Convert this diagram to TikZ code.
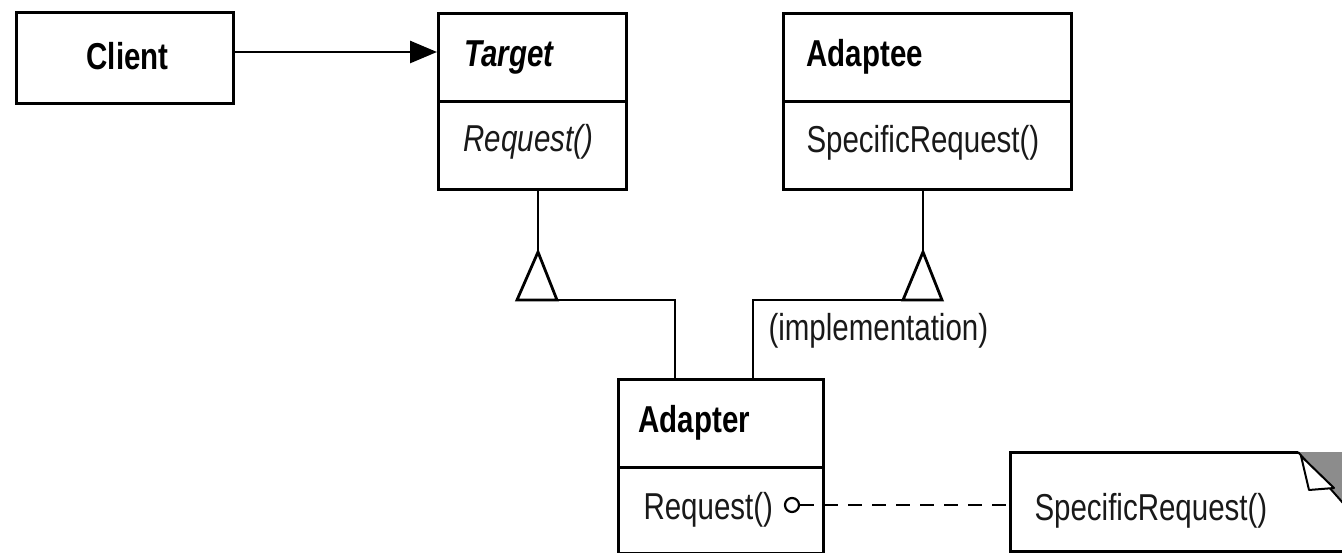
\documentclass[tikz,border=0pt]{standalone}
\usepackage{fontspec}
\setmainfont{Liberation Sans}
\usetikzlibrary{arrows.meta}
\newcommand{\vstretch}[1]{\scalebox{1}[1.27]{#1}}
\begin{document}
\begin{tikzpicture}[x=1pt,y=-1pt,line width=3pt,
  box/.style={draw,rectangle,line width=3pt,inner sep=0pt,anchor=north west},
  lbl/.style={anchor=base west,inner sep=0pt,text=black!90,font=\fontsize{29.5}{30}\selectfont},
  ttl/.style={lbl,font=\fontsize{29.5}{30}\selectfont\bfseries,text=black},
  conn/.style={line width=2.8pt},
  gen/.style={conn,fill=white,line join=miter}]
\fill[white] (0,0) rectangle (1342,553);
\useasboundingbox (0,0) rectangle (1342,553);
\clip (0,0) rectangle (1342,553);

% class boxes
\node[box,minimum width=217pt,minimum height=91pt] (client) at (15,11) {};
\node[box,minimum width=188pt,minimum height=176pt] (target) at (437,12) {};
\node[box,minimum width=288pt,minimum height=176pt] (adaptee) at (782,12) {};
\node[box,minimum width=205pt,minimum height=174pt] (adapter) at (617,378) {};
\draw (target.west |- 0,102) -- (target.east |- 0,102);
\draw (adaptee.west |- 0,102) -- (adaptee.east |- 0,102);
\draw (adapter.west |- 0,467) -- (adapter.east |- 0,467);

% texts
\node[ttl] (clientT) at (85,70) {\vstretch{Client}};
\node[ttl,font=\fontsize{29.5}{30}\selectfont\bfseries\itshape] (targetT) at (463,67) {\vstretch{Target}};
\node[lbl,font=\fontsize{29.5}{30}\selectfont\itshape] (targetOp) at (462,152) {\vstretch{Request()}};
\node[ttl] (adapteeT) at (805,67) {\vstretch{Adaptee}};
\node[lbl] (adapteeOp) at (805,153) {\vstretch{SpecificRequest()}};
\node[ttl] (adapterT) at (637,432) {\vstretch{Adapter}};
\node[lbl] (adapterOp) at (642,519) {\vstretch{Request()}};
\node[lbl] (implT) at (767,341) {\vstretch{(implementation)}};

% note with folded corner
\coordinate (noteW) at (1010,505);
\draw (1400,551) -- (1010,551) -- (1010,452) -- (1298,452);
\fill[black!45] (1298,452) -- (1350,452) -- (1350,511) -- cycle;
\draw[line width=2pt] (1298,452) -- (1350,511);
\draw[line width=2pt,fill=white,line join=round] (1301,456) -- (1309,490) -- (1334,488) -- cycle;
\node[lbl] (noteT) at (1033,520) {\vstretch{SpecificRequest()}};

% association Client -> Target
\draw[conn,-{Triangle[length=27pt,width=22pt]}] (client.east |- 0,52) -- (target.west |- 0,52);

% generalization Adapter -> Target
\coordinate (tApex) at (538,252);
\draw[conn] (target.south -| tApex) -- (tApex);
\draw[conn] (517,300) -- (675,300) -- (adapter.north -| 675,0);
\draw[gen] (517,300) -- (tApex) -- (557,300) -- cycle;

% generalization (implementation) Adapter -> Adaptee
\coordinate (aApex) at (923,252);
\draw[conn] (adaptee.south -| aApex) -- (aApex);
\draw[conn] (942,300) -- (753,300) -- (adapter.north -| 753,0);
\draw[gen] (903,300) -- (aApex) -- (942,300) -- cycle;

% note link
\node[circle,draw,line width=2.2pt,minimum size=14pt,inner sep=0pt] (lolly) at (792,505) {};
\draw[conn,dash pattern=on 14pt off 10pt] (lolly.east) -- (noteW);
\end{tikzpicture}
\end{document}
